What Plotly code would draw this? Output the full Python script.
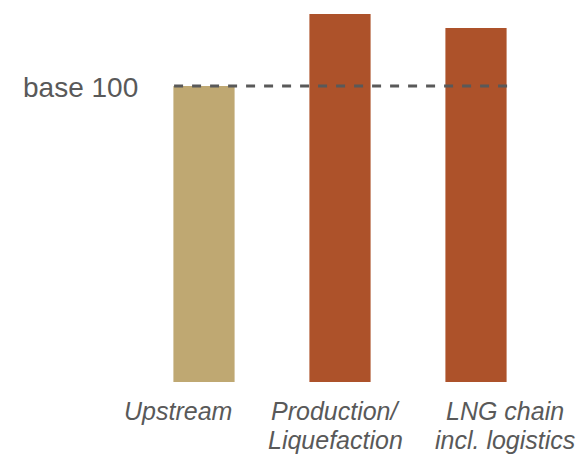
import plotly.graph_objects as go

categories = ["Upstream", "Production/<br>Liquefaction", "LNG chain<br>incl. logistics"]
values = [100, 124.3, 119.6]
colors = ["#BFA872", "#AD522A", "#AD522A"]
label_offsets = [-0.19, -0.03, 0.21]  # label centre offset from bar centre (category units)
base_value = 100
base_label = "base 100"

FONT = "Arial"
TEXT_COLOR = "#595959"

fig = go.Figure()
fig.add_trace(go.Bar(
    x=list(range(len(categories))),
    y=values,
    marker=dict(color=colors, line=dict(width=0)),
    width=0.45,
    hoverinfo="skip",
))

fig.add_shape(type="line", xref="x", yref="y",
              x0=-0.22, x1=2.25, y0=base_value, y1=base_value,
              line=dict(color=TEXT_COLOR, width=3, dash="dash"))

fig.add_annotation(x=-0.47, y=base_value, xref="x", yref="y",
                   text=base_label, showarrow=False, xanchor="right", yanchor="middle",
                   yshift=-2,
                   font=dict(family=FONT, size=28, color=TEXT_COLOR))

# category labels, one annotation per line for tight line spacing
for i, cat in enumerate(categories):
    for j, line in enumerate(cat.split("<br>")):
        fig.add_annotation(x=i + label_offsets[i], y=0, xref="x", yref="y",
                           text=f"<i>{line}</i>", showarrow=False,
                           xanchor="center", yanchor="middle",
                           yshift=-29 - 29 * j,
                           font=dict(family=FONT, size=25, color=TEXT_COLOR))

fig.update_layout(
    width=582, height=454,
    margin=dict(l=136, r=38, t=0, b=72),
    paper_bgcolor="white", plot_bgcolor="white",
    showlegend=False,
    xaxis=dict(range=[-0.5, 2.5], showticklabels=False,
               showgrid=False, zeroline=False, showline=False, ticks="", automargin=False),
    yaxis=dict(range=[0, 129.05], visible=False, showgrid=False, zeroline=False, automargin=False),
)

fig.write_html("out.html")
